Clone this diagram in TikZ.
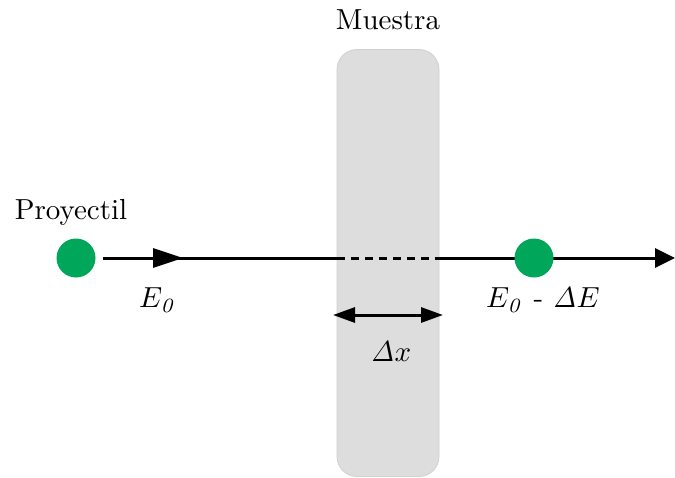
\documentclass[tikz,border=0pt]{standalone}
\usepackage{amsmath}
\usetikzlibrary{arrows.meta}
\definecolor{projgreen}{RGB}{0,166,90}
\definecolor{samplefill}{RGB}{221,221,221}
\definecolor{sampleedge}{RGB}{208,208,208}
\newcommand{\bigtxt}[1]{\scalebox{2.9}{#1}}
\tikzset{
  lbl/.style={inner sep=0pt},
  particle/.style={circle, fill=projgreen, minimum size=39pt, inner sep=0pt},
  beam/.style={line width=3pt},
}
\begin{document}
\begin{tikzpicture}[x=1pt,y=-1pt]
\useasboundingbox (0,0) rectangle (675,477);
% sample
\node[draw=sampleedge, fill=samplefill, line width=0.8pt, rounded corners=20pt,
      minimum width=102pt, minimum height=427pt, inner sep=0pt] (sample) at (388,263) {};
\node[lbl] (muestra) at (388,20) {\bigtxt{Muestra}};
% projectile
\node[particle] (p1) at (76,258) {};
\node[lbl] (proy) at (71,212) {\bigtxt{Proyectil}};
\coordinate (a0) at (103,258);
\coordinate (a1) at (183,258);
\coordinate (s0) at (337,258);
\coordinate (s1) at (439,258);
\coordinate (end) at (675,258);
\draw[beam] (a0) -- (s0);
\draw[beam, -{Triangle[length=30pt,width=19pt]}] (a0) -- (a1);
\draw[beam, dash pattern=on 8pt off 6pt] (s0) -- (s1);
\draw[beam, -{Triangle[length=20pt,width=19pt]}] (s1) -- (end);
\node[particle] (p2) at (534,258) {};
% labels
\node[lbl] (e0) at (158,300) {\bigtxt{$E_{\mathit{0}}$}};
\node[lbl] (e1) at (543,300) {\bigtxt{$E_{\mathit{0}}$ - $\mathit{\Delta} E$}};
% thickness arrow
\coordinate (d0) at (333,315);
\coordinate (d1) at (443,315);
\draw[beam, {Triangle[length=22pt,width=15pt]}-{Triangle[length=22pt,width=15pt]}] (d0) -- (d1);
\node[lbl] (dx) at (391,352) {\bigtxt{$\mathit{\Delta} x$}};
\end{tikzpicture}
\end{document}
